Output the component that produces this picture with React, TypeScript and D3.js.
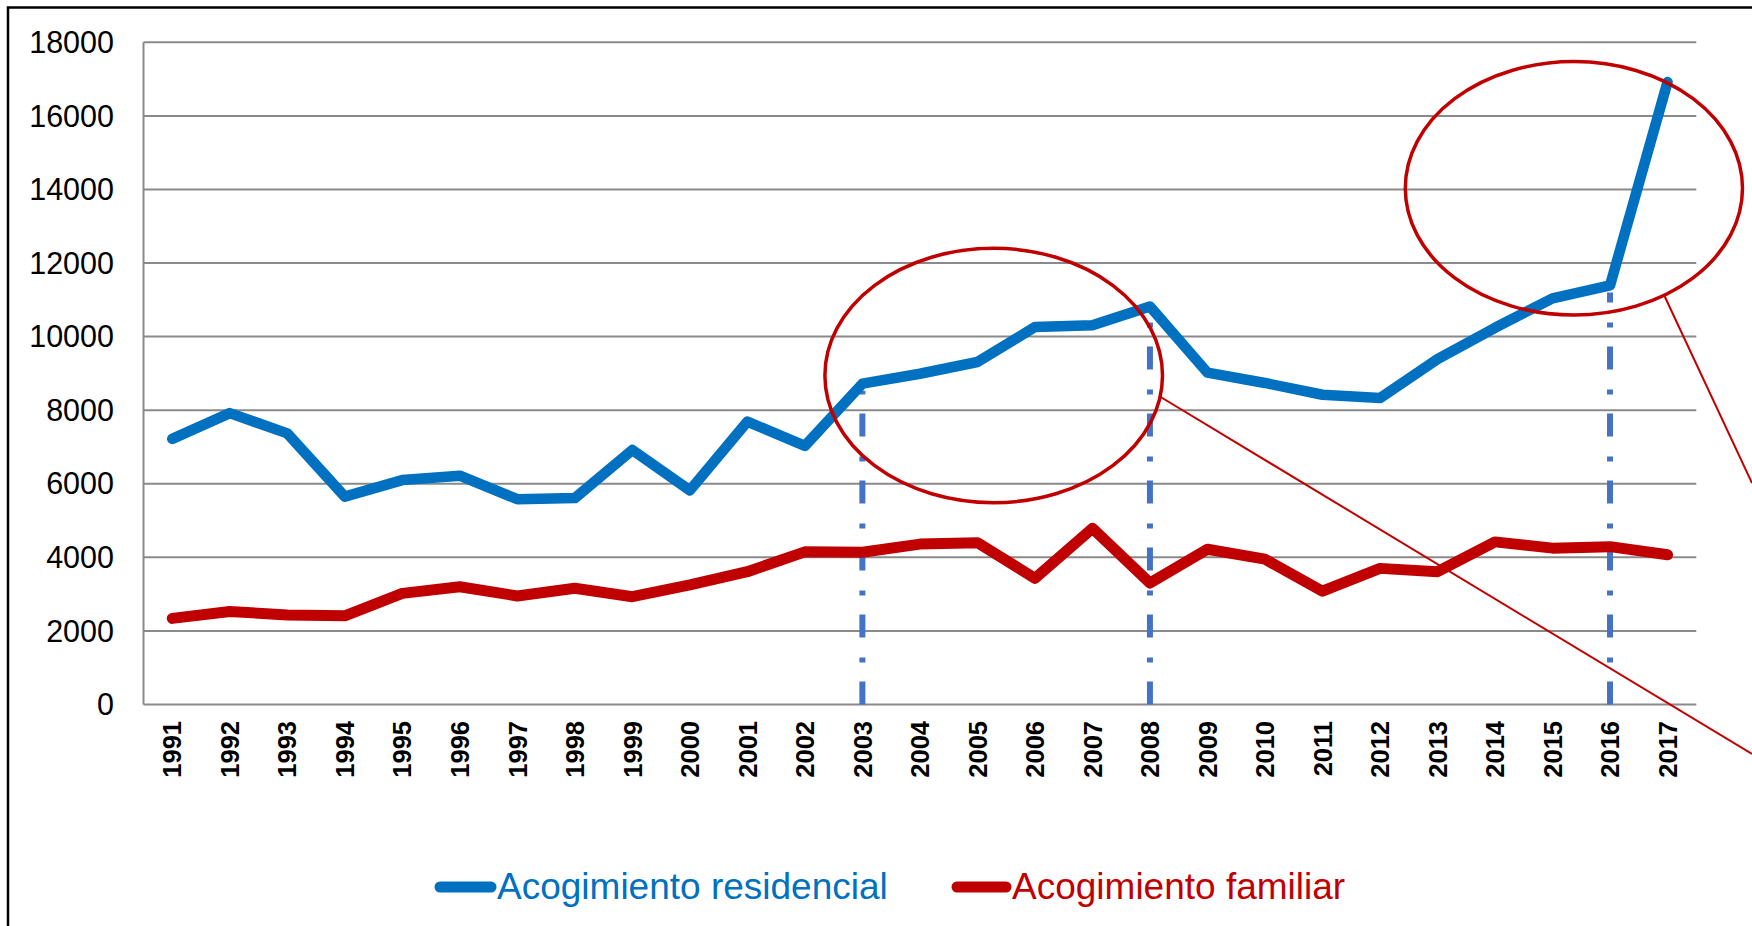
import React from "react";
import * as d3 from "d3";

const years = ["1991","1992","1993","1994","1995","1996","1997","1998","1999","2000","2001","2002","2003","2004","2005","2006","2007","2008","2009","2010","2011","2012","2013","2014","2015","2016","2017"];
const residencial = [7220, 7920, 7370, 5650, 6100, 6220, 5580, 5610, 6920, 5820, 7690, 7030, 8720, 8990, 9310, 10260, 10310, 10820, 9020, 8740, 8420, 8330, 9390, 10240, 11040, 11390, 16920];
const familiar = [2340, 2530, 2430, 2410, 3020, 3200, 2950, 3160, 2930, 3250, 3610, 4150, 4140, 4360, 4400, 3430, 4790, 3300, 4220, 3950, 3080, 3700, 3610, 4420, 4250, 4290, 4070];
const yTicks = [0, 2000, 4000, 6000, 8000, 10000, 12000, 14000, 16000, 18000];
const markerYears = ["2003", "2008", "2016"];
const seriesNames = ["Acogimiento residencial", "Acogimiento familiar"];

const BLUE = "#0070C0";
const RED = "#C00000";
const GRID = "#8a8a8a";
const FONT = "'Liberation Sans', Arial, Helvetica, sans-serif";

export default function App() {
  const W = 1752, H = 926;
  const x0 = 143.5, x1 = 1696.3, yTop = 42.3, yBot = 704.5;
  const x = d3.scalePoint<string>().domain(years).range([x0, x1]).padding(0.5);
  const y = d3.scaleLinear().domain([0, 18000]).range([yBot, yTop]);

  const line = d3.line<number>()
    .x((_, i) => x(years[i]) as number)
    .y((d) => y(d));

  return (
    <svg width={W} height={H} style={{ position: "absolute", left: 0, top: 0, background: "#fff" }}>
      <rect x={0} y={0} width={W} height={H} fill="#fff" />
      <rect x={8} y={7.5} width={2000} height={2000} fill="none" stroke="#000" strokeWidth={2.5} />

      {/* gridlines */}
      {yTicks.map((t) => (
        <line key={t} x1={x0} x2={x1} y1={y(t)} y2={y(t)} stroke={GRID} strokeWidth={2} />
      ))}
      <line x1={x0} x2={x0} y1={yTop} y2={yBot} stroke={GRID} strokeWidth={2} />

      {/* y labels */}
      {yTicks.map((t) => (
        <text key={t} x={114} y={y(t)} dy="0.35em" textAnchor="end" fontFamily={FONT} fontSize={30.5} fill="#000">
          {t}
        </text>
      ))}

      {/* x labels */}
      {years.map((yr) => (
        <text key={yr} transform={`translate(${x(yr)},721) rotate(-90)`} dy="0.36em" textAnchor="end"
          fontFamily={FONT} fontWeight="bold" fontSize={25.5} fill="#000">
          {yr}
        </text>
      ))}

      {/* dash-dot markers */}
      {markerYears.map((yr) => {
        const i = years.indexOf(yr);
        const px = x(yr) as number;
        return (
          <line key={yr} x1={px} x2={px} y1={yBot} y2={y(residencial[i]) + 7}
            stroke="#4472C4" strokeWidth={6} strokeDasharray="23,19,5,20" />
        );
      })}

      {/* series */}
      <path d={line(familiar) || ""} fill="none" stroke={RED} strokeWidth={11} strokeLinecap="round" strokeLinejoin="round" />
      <path d={line(residencial) || ""} fill="none" stroke={BLUE} strokeWidth={10.5} strokeLinecap="round" strokeLinejoin="round" />

      {/* annotations */}
      <ellipse cx={993.7} cy={375.5} rx={168.8} ry={127.2} fill="none" stroke={RED} strokeWidth={3.5} />
      <ellipse cx={1573.9} cy={188.3} rx={168.6} ry={126.7} fill="none" stroke={RED} strokeWidth={3.5} />
      <line x1={1159} y1={396} x2={1752} y2={754} stroke={RED} strokeWidth={2} />
      <line x1={1664.5} y1={296} x2={1752} y2={483} stroke={RED} strokeWidth={2} />

      {/* legend */}
      <line x1={440} x2={491} y1={887} y2={887} stroke={BLUE} strokeWidth={11} strokeLinecap="round" />
      <text x={497} y={898.5} fontFamily={FONT} fontSize={37} fill={BLUE}>{seriesNames[0]}</text>
      <line x1={957} x2={1006} y1={887} y2={887} stroke={RED} strokeWidth={11} strokeLinecap="round" />
      <text x={1012} y={898.5} fontFamily={FONT} fontSize={37} fill={RED}>{seriesNames[1]}</text>
    </svg>
  );
}
